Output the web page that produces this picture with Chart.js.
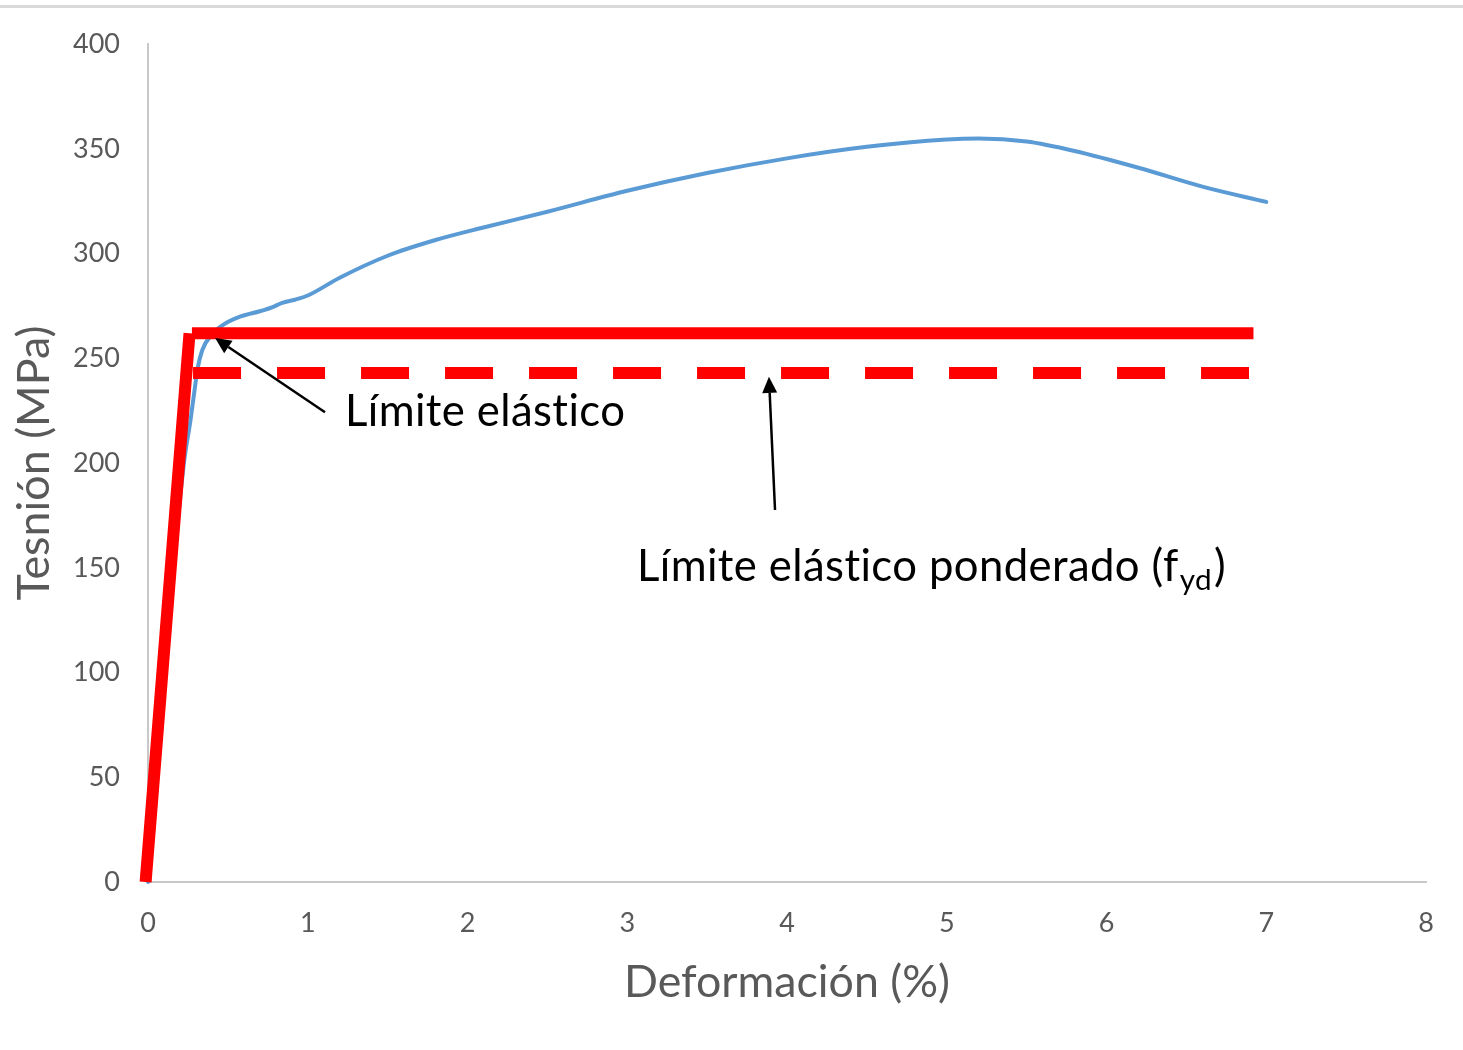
<!DOCTYPE html>
<html><head><meta charset="utf-8">
<script src="https://cdn.jsdelivr.net/npm/chart.js@4/dist/chart.umd.min.js"></script>
<style>
html,body{margin:0;padding:0;background:#fff;}
#wrap{position:relative;width:1463px;height:1050px;overflow:hidden;}
#c{position:absolute;left:0;top:0;}
#topline{position:absolute;left:0;top:5px;width:1463px;height:3px;background:#d9d9d9;}
</style></head>
<body><div id="wrap"><canvas id="c" width="1463" height="1050"></canvas><div id="topline"></div></div>
<script>
// ---- data ----
const strain = [0, 0.16, 0.225, 0.265, 0.29, 0.31, 0.34, 0.40, 0.47, 0.58, 0.70, 0.78, 0.84, 0.92, 1.0, 1.2, 1.5, 1.8, 2.1, 2.5, 3.0, 3.5, 4.0, 4.5, 5.0, 5.2, 5.5, 5.8, 6.2, 6.6, 7.0];
const stress = [0, 150, 200, 220, 234, 245, 254, 261.5, 266, 270, 272.5, 274.5, 276.5, 278, 280, 288.5, 299, 306.5, 312.5, 320, 330, 338.5, 345.5, 351, 354.5, 355, 353.5, 349, 341, 332, 324.7];
const elasticStrain = [-0.015, 0.26];
const elasticStress = [0, 262];
const yieldStrain = [0.275, 6.92];
const yieldStress = [262, 262];
const designStrain = [0.282, 6.892];
const designStress = [243, 243];
const xTickValues = [0, 1, 2, 3, 4, 5, 6, 7, 8];
const yTickValues = [0, 50, 100, 150, 200, 250, 300, 350, 400];
const xTitle = 'Deformación (%)';
const yTitle = 'Tesnión (MPa)';
const label1 = 'Límite elástico';
const label2 = 'Límite elástico ponderado (f';
const label2sub = 'yd';
const label2end = ')';
// annotation anchors in data units
const arrowFrom = [[1.108, 224.3], [3.925, 177.6]];
const arrowTo = [[0.42, 259.7], [3.887, 241.2]];
const label1Pos = [1.233, 217.5];
const label2Pos = [3.061, 143.7];

const pts = (xs, ys) => xs.map((v, i) => ({x: v, y: ys[i]}));

const FAM = 'Lato, "Open Sans", sans-serif';
const LS = '0.4px';
function fitSize(text, target, ls){
  const c = document.createElement('canvas').getContext('2d');
  c.font = '400 100px ' + FAM;
  if (ls) c.letterSpacing = ls;
  return 100 * target / c.measureText(text).width;
}
const annSize = fitSize(label1, 277, LS);
const xTitleSize = fitSize(xTitle, 326);
const yTitleSize = fitSize(yTitle, 275);
const GRAY = '#595959';

const annot = {
  id: 'annot',
  afterDatasetsDraw(chart){
    const {ctx, scales: {x, y}} = chart;
    ctx.save();
    ctx.strokeStyle = '#000'; ctx.fillStyle = '#000';
    ctx.lineWidth = 2.5;
    arrowFrom.forEach((f, i) => {
      const x1 = x.getPixelForValue(f[0]), y1 = y.getPixelForValue(f[1]);
      const x2 = x.getPixelForValue(arrowTo[i][0]), y2 = y.getPixelForValue(arrowTo[i][1]);
      const ang = Math.atan2(y2 - y1, x2 - x1);
      const hl = 16, hw = 7.5;
      const bx = x2 - hl * Math.cos(ang), by = y2 - hl * Math.sin(ang);
      ctx.beginPath(); ctx.moveTo(x1, y1); ctx.lineTo(bx, by); ctx.stroke();
      ctx.beginPath();
      ctx.moveTo(x2, y2);
      ctx.lineTo(bx + hw * Math.sin(ang), by - hw * Math.cos(ang));
      ctx.lineTo(bx - hw * Math.sin(ang), by + hw * Math.cos(ang));
      ctx.closePath(); ctx.fill();
    });
    ctx.textBaseline = 'alphabetic'; ctx.textAlign = 'left';
    ctx.letterSpacing = LS;
    ctx.font = '400 ' + annSize + 'px ' + FAM;
    ctx.fillText(label1, x.getPixelForValue(label1Pos[0]), y.getPixelForValue(label1Pos[1]));
    const lx = x.getPixelForValue(label2Pos[0]), ly = y.getPixelForValue(label2Pos[1]);
    ctx.fillText(label2, lx, ly);
    const w = ctx.measureText(label2).width;
    ctx.font = '400 ' + (annSize * 0.68) + 'px ' + FAM;
    ctx.fillText(label2sub, lx + w + 1, ly + 9);
    const ws = ctx.measureText(label2sub).width;
    ctx.font = '400 ' + annSize + 'px ' + FAM;
    ctx.fillText(label2end, lx + w + ws + 3, ly);
    ctx.restore();
  }
};

new Chart(document.getElementById('c'), {
  type: 'scatter',
  data: {
    datasets: [
      {label: 'elastic', data: pts(elasticStrain, elasticStress), showLine: true, borderColor: '#ff0000', borderWidth: 12, pointRadius: 0, clip: false, borderCapStyle: 'butt'},
      {label: 'yield', data: pts(yieldStrain, yieldStress), showLine: true, borderColor: '#ff0000', borderWidth: 12, pointRadius: 0, clip: false, borderCapStyle: 'butt'},
      {label: 'design', data: pts(designStrain, designStress), showLine: true, borderColor: '#ff0000', borderWidth: 12, borderDash: [48, 36], pointRadius: 0, clip: false, borderCapStyle: 'butt'},
      {label: 'curve', data: pts(strain, stress), showLine: true, borderColor: '#5b9bd5', borderWidth: 4, pointRadius: 0, cubicInterpolationMode: 'monotone', clip: false, borderCapStyle: 'round'}
    ]
  },
  options: {
    responsive: false,
    animation: false,
    devicePixelRatio: 1,
    layout: {padding: {top: 44, right: 37, left: 0, bottom: 0}},
    plugins: {legend: {display: false}, tooltip: {enabled: false}},
    scales: {
      x: {
        type: 'linear', min: 0, max: 8,
        afterBuildTicks: s => { s.ticks = xTickValues.map(v => ({value: v})); },
        afterFit: s => { s.height = 168; },
        grid: {display: false, drawTicks: false},
        border: {display: true, color: '#c8c8c8', width: 2},
        ticks: {color: GRAY, font: {family: FAM, size: 27}, padding: 25},
        title: {display: true, text: xTitle, color: GRAY, font: {family: FAM, size: xTitleSize, lineHeight: 1.2}, padding: {top: 0, bottom: 67 - 0.6 * xTitleSize}}
      },
      y: {
        type: 'linear', min: 0, max: 400,
        afterBuildTicks: s => { s.ticks = yTickValues.map(v => ({value: v})); },
        afterFit: s => { s.width = 148; },
        grid: {display: false, drawTicks: false},
        border: {display: true, color: '#c8c8c8', width: 2},
        ticks: {color: GRAY, font: {family: FAM, size: 27}, padding: 28},
        title: {display: true, text: yTitle, color: GRAY, font: {family: FAM, size: yTitleSize, lineHeight: 1.2}, padding: {top: 35 - 0.6 * yTitleSize, bottom: 0}}
      }
    }
  },
  plugins: [annot]
});
</script>
</body></html>
